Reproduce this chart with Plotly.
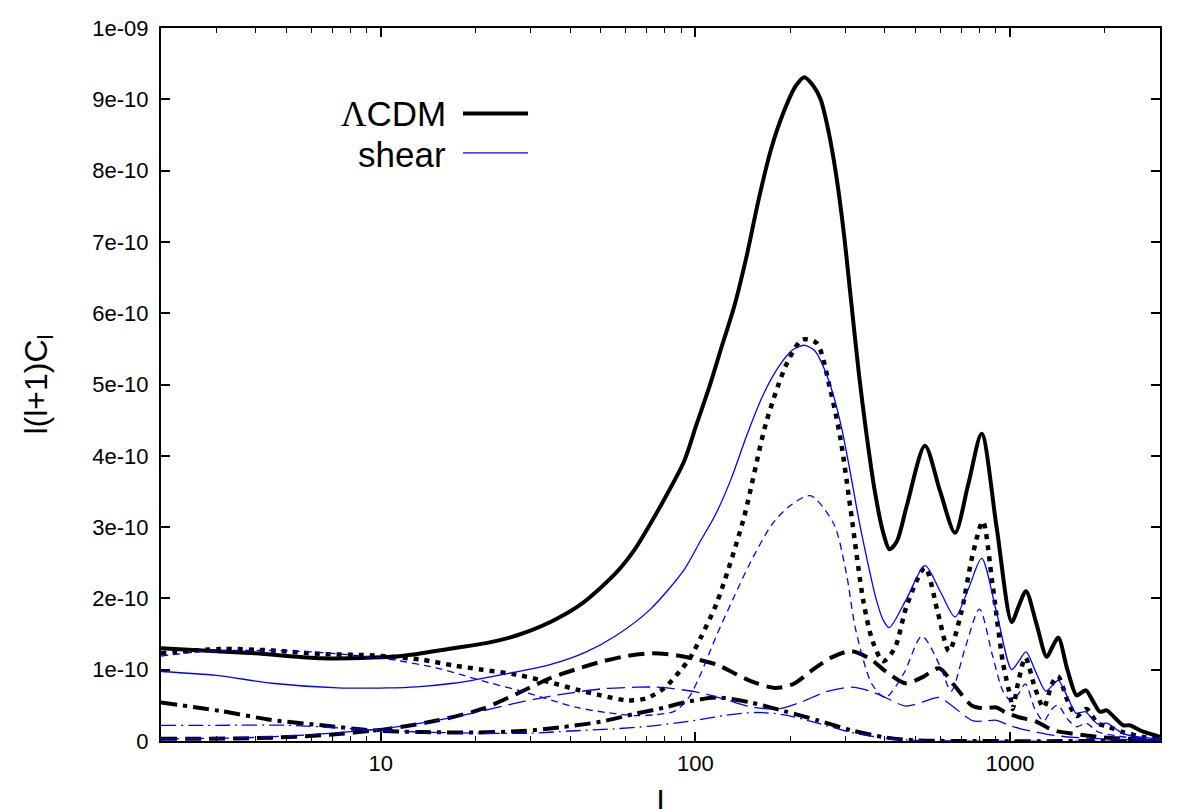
import plotly.graph_objects as go

E = 1e-10  # values below are in units of 1e-10

# LCDM (black, thick)
lcdm_tot_l = [2, 3, 4, 6.5, 9.4, 12, 17, 22, 27, 35, 44, 56, 64, 72, 81, 92, 101, 111, 121.6, 133, 145.5, 159, 174,
              190, 208, 222, 236, 250, 265, 280, 296, 313, 331, 350, 372, 394, 414, 437, 470, 537, 600, 669, 737, 813,
              907, 1013, 1068, 1125, 1213, 1309, 1365, 1425, 1523, 1629, 1690, 1745, 1836, 1933, 2030, 2150, 2293,
              2400, 2655, 3000]
lcdm_tot_v = [1.30, 1.26, 1.23, 1.16, 1.17, 1.20, 1.30, 1.38, 1.48, 1.68, 1.94, 2.36, 2.68, 3.05, 3.45, 3.92, 4.45, 4.98,
              5.55, 6.10, 6.80, 7.60, 8.30, 8.80, 9.18, 9.31, 9.20, 9.00, 8.55, 7.95, 7.15, 6.15, 5.15, 4.30, 3.50, 2.95,
              2.69, 2.80, 3.30, 4.14, 3.50, 2.92, 3.60, 4.31, 3.00, 1.67, 1.90, 2.10, 1.65, 1.18, 1.32, 1.45, 1.00, 0.64,
              0.68, 0.71, 0.56, 0.41, 0.43, 0.33, 0.22, 0.22, 0.13, 0.06]

lcdm_sw_l = [2, 3.1, 4.5, 6.5, 9.4, 13.5, 17, 21, 27, 34, 42, 50, 61, 70, 80, 90, 96, 104, 117, 142, 168, 196, 219, 243,
             268, 289, 311, 343, 366, 395, 430, 470, 537, 590, 640, 700, 760, 820, 880, 950, 1005, 1020, 1060, 1120,
             1200, 1280, 1360, 1420, 1530, 1630, 1750, 1900, 2050, 2300, 2700, 3000]
lcdm_sw_v = [1.23, 1.29, 1.27, 1.22, 1.20, 1.14, 1.06, 1.00, 0.93, 0.83, 0.72, 0.64, 0.57, 0.60, 0.75, 1.00, 1.16, 1.45,
             1.94, 3.10, 4.47, 5.31, 5.63, 5.58, 4.94, 4.25, 3.27, 1.93, 1.40, 1.12, 1.30, 1.90, 2.43, 1.80, 1.26, 1.80,
             2.60, 3.08, 2.20, 1.10, 0.60, 0.45, 0.80, 1.17, 0.75, 0.47, 0.80, 0.91, 0.55, 0.35, 0.45, 0.25, 0.20, 0.12,
             0.05, 0.03]

lcdm_dop_l = [2, 4, 6.5, 10.5, 15.2, 21, 27, 34.5, 42, 50, 60, 72, 85, 100, 117, 150, 179, 205, 233, 270, 313, 360, 402,
              466, 530, 595, 660, 760, 830, 906, 970, 1075, 1200, 1375, 1600, 2000, 3000]
lcdm_dop_v = [0.03, 0.04, 0.08, 0.17, 0.29, 0.45, 0.66, 0.88, 1.01, 1.11, 1.19, 1.23, 1.21, 1.15, 1.07, 0.84, 0.745,
              0.80, 0.98, 1.17, 1.26, 1.15, 0.98, 0.81, 0.90, 1.02, 0.80, 0.49, 0.46, 0.47, 0.40, 0.33, 0.28, 0.15,
              0.10, 0.05, 0.01]

lcdm_isw_l = [2, 3.1, 4.5, 6.5, 9.4, 13.5, 20, 28, 37, 50, 64, 80, 92, 117, 150, 191, 245, 313, 402, 500, 700, 3000]
lcdm_isw_v = [0.54, 0.42, 0.295, 0.22, 0.15, 0.125, 0.12, 0.14, 0.19, 0.27, 0.38, 0.47, 0.54, 0.61, 0.54, 0.42, 0.29,
              0.15, 0.05, 0.01, 0.0, 0.0]

# shear (blue, thin)
shear_tot_l = [2, 3, 4.5, 7.3, 10.5, 13, 17, 20, 25, 34.5, 45, 56, 72, 92, 103, 116, 130, 146, 164, 184, 203, 222, 240,
               258, 275, 293, 311, 331, 352, 375, 395, 413, 470, 537, 600, 669, 740, 813, 907, 1013, 1068, 1125, 1213,
               1300, 1365, 1425, 1530, 1620, 1680, 1740, 1820, 1900, 2030, 2300, 2650, 3000]
shear_tot_v = [0.975, 0.92, 0.81, 0.745, 0.745, 0.76, 0.81, 0.86, 0.94, 1.07, 1.25, 1.48, 1.85, 2.40, 2.78, 3.18, 3.68,
               4.30, 4.85, 5.25, 5.48, 5.55, 5.47, 5.20, 4.84, 4.35, 3.76, 3.10, 2.53, 2.00, 1.70, 1.59, 2.00, 2.46,
               2.10, 1.74, 2.15, 2.56, 1.80, 1.00, 1.12, 1.25, 0.95, 0.70, 0.78, 0.85, 0.60, 0.39, 0.40, 0.41, 0.32,
               0.24, 0.25, 0.10, 0.05, 0.03]

shear_sw_l = [2, 2.8, 4.5, 6.5, 10.5, 15.2, 18, 22, 28, 35, 42, 52, 65, 75, 86, 95, 103, 117, 132, 149, 176, 200, 232,
              275, 302, 323, 364, 402, 460, 525, 600, 650, 720, 800, 880, 950, 1005, 1060, 1120, 1200, 1280, 1360,
              1420, 1530, 1630, 1750, 1900, 2200, 2600, 3000]
shear_sw_v = [1.19, 1.26, 1.27, 1.24, 1.15, 1.02, 0.93, 0.82, 0.70, 0.57, 0.47, 0.40, 0.355, 0.37, 0.42, 0.60, 0.90,
              1.49, 2.00, 2.49, 3.05, 3.30, 3.44, 3.05, 2.35, 1.57, 0.80, 0.61, 0.95, 1.47, 1.05, 0.70, 1.30, 1.85,
              1.20, 0.70, 0.57, 0.65, 0.80, 0.45, 0.28, 0.45, 0.50, 0.30, 0.20, 0.25, 0.13, 0.07, 0.03, 0.02]

shear_dop_l = [2, 4, 6.5, 10.5, 16, 21, 28, 37, 50, 65, 75, 90, 103, 125, 150, 184, 218, 260, 313, 360, 402, 466, 530,
               595, 660, 760, 830, 906, 980, 1075, 1200, 1375, 1600, 2000, 3000]
shear_dop_v = [0.03, 0.05, 0.10, 0.18, 0.31, 0.42, 0.55, 0.65, 0.73, 0.755, 0.755, 0.72, 0.68, 0.58, 0.48, 0.45, 0.55,
               0.69, 0.755, 0.70, 0.61, 0.49, 0.55, 0.61, 0.48, 0.285, 0.28, 0.29, 0.23, 0.175, 0.13, 0.08, 0.05, 0.03,
               0.01]

shear_isw_l = [2, 3, 5.1, 8.3, 13.5, 20, 30, 40, 55, 72, 100, 125, 155, 190, 245, 313, 402, 500, 700, 3000]
shear_isw_v = [0.22, 0.22, 0.22, 0.17, 0.125, 0.11, 0.11, 0.14, 0.17, 0.21, 0.29, 0.36, 0.40, 0.37, 0.25, 0.12, 0.04,
               0.01, 0.0, 0.0]

y_tick_vals = [0, 1, 2, 3, 4, 5, 6, 7, 8, 9, 10]
y_tick_text = ["0", "1e-10", "2e-10", "3e-10", "4e-10", "5e-10", "6e-10", "7e-10", "8e-10", "9e-10", "1e-09"]
x_tick_vals = [10, 100, 1000]
x_tick_text = ["10", "100", "1000"]
x_minor_vals = [2, 3, 4, 5, 6, 7, 8, 9, 20, 30, 40, 50, 60, 70, 80, 90,
                200, 300, 400, 500, 600, 700, 800, 900, 2000, 3000]

BLACK = "#000000"
BLUE = "#0000ff"

series = [
    (lcdm_tot_l, lcdm_tot_v, BLACK, 4, "solid"),
    (lcdm_sw_l, lcdm_sw_v, BLACK, 4.5, "5px,6px"),
    (lcdm_dop_l, lcdm_dop_v, BLACK, 4, "16px,8px"),
    (lcdm_isw_l, lcdm_isw_v, BLACK, 4, "16px,6px,4px,6px"),
    (shear_tot_l, shear_tot_v, BLUE, 1.3, "solid"),
    (shear_sw_l, shear_sw_v, BLUE, 1.3, "7px,5px"),
    (shear_dop_l, shear_dop_v, BLUE, 1.3, "18px,7px"),
    (shear_isw_l, shear_isw_v, BLUE, 1.3, "15px,5px,2px,5px"),
]

fig = go.Figure()
for xs, vs, col, w, dash in series:
    fig.add_trace(go.Scatter(
        x=xs, y=[v * E for v in vs], mode="lines",
        line=dict(color=col, width=w, dash=dash, shape="spline", smoothing=0.8),
        showlegend=False, hoverinfo="skip"))

FONT = "Liberation Sans, Arial, Helvetica, sans-serif"

# the page body adds an 8px margin, so the figure is sized to fill the rest of the window
fig.update_layout(
    width=1170, height=801,
    margin=dict(l=153, r=18, t=8, b=68),
    paper_bgcolor="white", plot_bgcolor="white",
    font=dict(family=FONT, color="black", size=22),
    showlegend=False,
)
fig.update_xaxes(
    type="log", range=[0.30103, 3.47712],
    showgrid=False, zeroline=False,
    showline=True, linecolor="black", linewidth=2, mirror="allticks",
    ticks="inside", ticklen=9, tickwidth=1.5, tickcolor="black",
    tickmode="array", tickvals=x_tick_vals, ticktext=x_tick_text,
    tickfont=dict(size=22, family=FONT, color="black"),
    ticklabelstandoff=2, ticklabeloverflow="allow",
    minor=dict(ticks="inside", ticklen=5, tickwidth=1.2, tickcolor="black",
               tickmode="array", tickvals=x_minor_vals, showgrid=False),
)
fig.update_yaxes(
    range=[0, 1e-9],
    showgrid=False, zeroline=False,
    showline=True, linecolor="black", linewidth=2, mirror="allticks",
    ticks="inside", ticklen=9, tickwidth=1.5, tickcolor="black",
    tickmode="array", tickvals=[v * E for v in y_tick_vals], ticktext=y_tick_text,
    tickfont=dict(size=22, family=FONT, color="black"),
    ticklabelstandoff=6, ticklabeloverflow="allow",
)

# axis titles
fig.add_annotation(text="l(l+1)C<sub>l</sub>", xref="paper", yref="paper",
                   x=-0.123, y=0.50, textangle=-90, showarrow=False,
                   font=dict(size=32, family=FONT, color="black"),
                   xanchor="center", yanchor="middle")
fig.add_annotation(text="l", xref="paper", yref="paper",
                   x=0.5, y=-0.058, showarrow=False,
                   font=dict(size=32, family=FONT, color="black"),
                   xanchor="center", yanchor="top")

# key (text to the left of the sample line, as in the original)
fig.add_annotation(text="<span style='font-family:Liberation Serif'>Λ</span>CDM", xref="paper", yref="paper",
                   x=0.2873, y=0.880, showarrow=False, xanchor="right", yanchor="middle",
                   font=dict(size=35, family=FONT, color="black"))
fig.add_annotation(text="shear", xref="paper", yref="paper",
                   x=0.2873, y=0.822, showarrow=False, xanchor="right", yanchor="middle",
                   font=dict(size=35, family=FONT, color="black"))
fig.add_shape(type="line", xref="paper", yref="paper", x0=0.3023, x1=0.3674, y0=0.880, y1=0.880,
              line=dict(color=BLACK, width=4))
fig.add_shape(type="line", xref="paper", yref="paper", x0=0.3023, x1=0.3674, y0=0.825, y1=0.825,
              line=dict(color=BLUE, width=1.3))

fig.write_html("out.html")
